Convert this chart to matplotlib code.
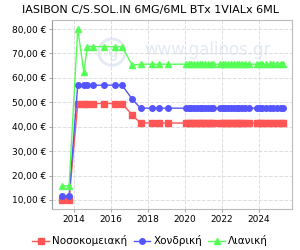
import numpy as np
import matplotlib.pyplot as plt
from matplotlib.ticker import FuncFormatter

# price history (year as decimal)
years = [2013.35, 2013.73, 2014.2, 2014.53, 2014.72, 2015.0, 2015.6, 2016.2, 2016.6,
         2017.15, 2017.6, 2018.2, 2018.6, 2019.1,
         2020.05, 2020.2, 2020.35, 2020.5, 2020.65, 2020.8, 2020.95, 2021.1, 2021.25, 2021.4, 2021.55,
         2021.9, 2022.05, 2022.2, 2022.35, 2022.5, 2022.65, 2022.8, 2022.95, 2023.1, 2023.25, 2023.45,
         2023.9, 2024.05, 2024.2, 2024.4, 2024.6, 2024.8, 2025.0, 2025.2, 2025.3]

n_tail = 31  # points after 2019 with flat prices

hospital = [10.0, 10.0, 49.5, 49.5, 49.5, 49.5, 49.5, 49.5, 49.5,
            44.8, 41.5, 41.5, 41.5, 41.5] + [41.5] * n_tail
wholesale = [11.5, 11.5, 57.0, 57.0, 57.0, 57.0, 57.0, 57.0, 57.0,
             51.3, 47.6, 47.6, 47.6, 47.6] + [47.6] * n_tail
retail = [15.8, 15.8, 80.0, 62.3, 72.8, 72.8, 72.8, 72.8, 72.8,
          65.2, 65.6, 65.6, 65.6, 65.6] + [65.6] * n_tail

title = "IASIBON C/S.SOL.IN 6MG/6ML BTx 1VIALx 6ML"
labels = ["Νοσοκομειακή", "Χονδρική", "Λιανική"]
year_ticks = [2014, 2016, 2018, 2020, 2022, 2024]
price_ticks = [10, 20, 30, 40, 50, 60, 70, 80]

fig = plt.figure(figsize=(3, 2.5), dpi=100)
ax = fig.add_axes([0.173, 0.164, 0.8, 0.756])

# faint watermark
ax.text(0.65, 0.84, "www.galinos.gr", transform=ax.transAxes, ha='center', va='center',
        fontsize=12, color='#e3eaf3', zorder=0)
ax.text(0.25, 0.83, "g", transform=ax.transAxes, ha='center', va='center',
        fontsize=12, color='#e3eaf3', zorder=0,
        bbox=dict(boxstyle='circle,pad=0.25', fc='none', ec='#e3eaf3', lw=2))

ax.plot(years, hospital, color='#ff5555', marker='s', markersize=4, linewidth=1, label=labels[0])
ax.plot(years, wholesale, color='#5555ff', marker='o', markersize=4, linewidth=1, label=labels[1])
ax.plot(years, retail, color='#55ff55', marker='^', markersize=4, linewidth=1, label=labels[2])

ax.set_xlim(2012.8, 2025.8)
ax.set_ylim(6.3, 83.7)
ax.set_xticks(year_ticks)
ax.set_yticks(price_ticks)
ax.yaxis.set_major_formatter(FuncFormatter(lambda v, p: f"{v:.2f}".replace('.', ',') + " €"))
ax.tick_params(labelsize=6.5, length=2, color='#aaaaaa', pad=2)
ax.grid(True, color='#dddddd', linestyle='--', linewidth=0.7)
for s in ax.spines.values():
    s.set_color('#bbbbbb')
ax.spines['left'].set_color('#999999')

fig.text(0.5, 0.958, title, ha='center', va='center', fontsize=8)
ax.legend(loc='upper center', bbox_to_anchor=(0.41, -0.09), ncol=3, frameon=False,
          fontsize=7.5, handlelength=1.6, columnspacing=0.6, handletextpad=0.3)

fig.savefig("out.png", dpi=100)
